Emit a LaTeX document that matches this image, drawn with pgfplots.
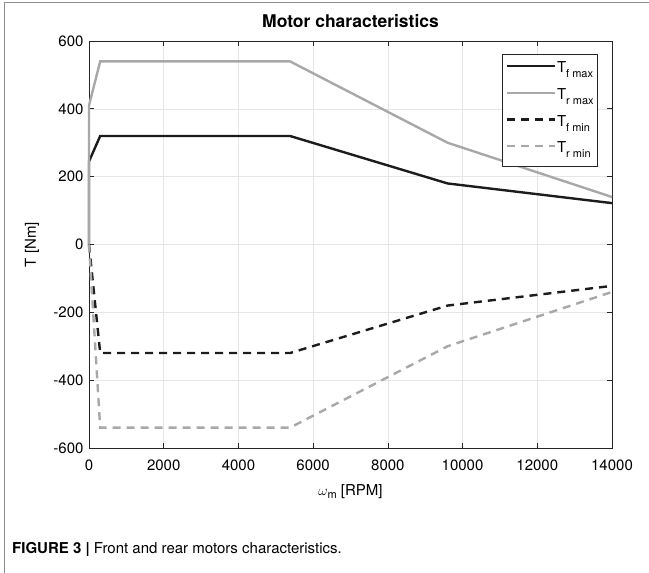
\documentclass[border=0pt]{standalone}
\usepackage{pgfplots}
\pgfplotsset{compat=1.18}
\usepackage{fontspec}
\setmainfont{TeX Gyre Heros}

\definecolor{frontc}{HTML}{1C1C1C}
\definecolor{rearc}{HTML}{A8A8A8}
\definecolor{axisc}{HTML}{262626}
\definecolor{gridc}{HTML}{E6E6E6}
\definecolor{framec}{HTML}{8C8C8C}

% Torque limits of the two motors [Nm] vs. speed [RPM]
\pgfplotstableread{
w    T
0    0
0    245
300  320
5380 320
9600 180
14000 122
}\tfmax
\pgfplotstableread{
w    T
0    0
0    410
300  540
5380 540
9600 300
14000 140
}\trmax
\pgfplotstableread{
w    T
0    0
300  -320
5380 -320
9600 -180
14000 -122
}\tfmin
\pgfplotstableread{
w    T
0    0
300  -540
5380 -540
9600 -300
14000 -140
}\trmin

\newcommand{\lsub}[1]{\raisebox{-5bp}{\fontsize{11bp}{12bp}\selectfont #1}}

\begin{document}
\begin{tikzpicture}
\useasboundingbox (0bp,0bp) rectangle (649bp,-573bp);
% page frame
\draw[framec, line width=1bp] (649bp,-2bp) -- (4bp,-2bp) -- (4bp,-573bp);

\begin{axis}[
  at={(89bp,-41bp)}, anchor=north west,
  scale only axis, width=523bp, height=407bp,
  xmin=0, xmax=14000, ymin=-600, ymax=600,
  xtick={0,2000,...,14000}, ytick={-600,-400,...,600},
  scaled x ticks=false,
  /pgf/number format/assume math mode=true,
  xticklabel style={/pgf/number format/set thousands separator={}, yshift=-8bp},
  yticklabel style={xshift=-2bp},
  font=\fontsize{15bp}{17bp}\selectfont,
  grid=major, major grid style={gridc, line width=0.6bp},
  axis line style={axisc, line width=0.7bp},
  tick style={axisc, line width=0.7bp},
  tick align=inside, major tick length=5bp,
  xtick pos=both, ytick pos=both,
  title={Motor characteristics},
  title style={font=\fontsize{17.5bp}{19bp}\selectfont\bfseries, anchor=base, at={(0.5,1)}, yshift=8bp},
  xlabel={$\omega$\raisebox{-0.45ex}{\fontsize{11bp}{12bp}\selectfont m} [RPM]},
  xlabel style={at={(axis description cs:0.5,0)}, anchor=base, yshift=-47bp},
  ylabel={T [Nm]},
  ylabel style={at={(axis description cs:-0.109,0.5)}, anchor=center},
  clip=false,
  legend style={at={(axis description cs:0.9732,0.968)}, anchor=north east,
    draw=axisc, line width=0.6bp, fill=white,
    font=\fontsize{15bp}{17bp}\selectfont,
    inner xsep=3bp, inner ysep=2.5bp, row sep=0pt, column sep=0pt,
    nodes={inner sep=1bp, text height=15bp, text depth=9.7bp}},
  legend cell align=left,
  legend image code/.code={\draw[#1] (0bp,4bp) -- (48bp,4bp);},
]
\addplot[frontc, line width=2.4bp] table[x=w,y=T] {\tfmax};
\addlegendentry{T\lsub{f max}}
\addplot[rearc, line width=2.4bp] table[x=w,y=T] {\trmax};
\addlegendentry{T\lsub{r max}}
\addplot[frontc, line width=2.4bp, dash pattern=on 8bp off 6bp] table[x=w,y=T] {\tfmin};
\addlegendentry{T\lsub{f min}}
\addplot[rearc, line width=2.4bp, dash pattern=on 8bp off 6bp] table[x=w,y=T] {\trmin};
\addlegendentry{T\lsub{r min}}
\end{axis}

\node[anchor=base west, inner sep=0pt, font=\fontsize{15bp}{17bp}\selectfont]
  at (12bp,-553bp) {\textbf{FIGURE 3 |} Front and rear motors characteristics.};
\end{tikzpicture}
\end{document}
